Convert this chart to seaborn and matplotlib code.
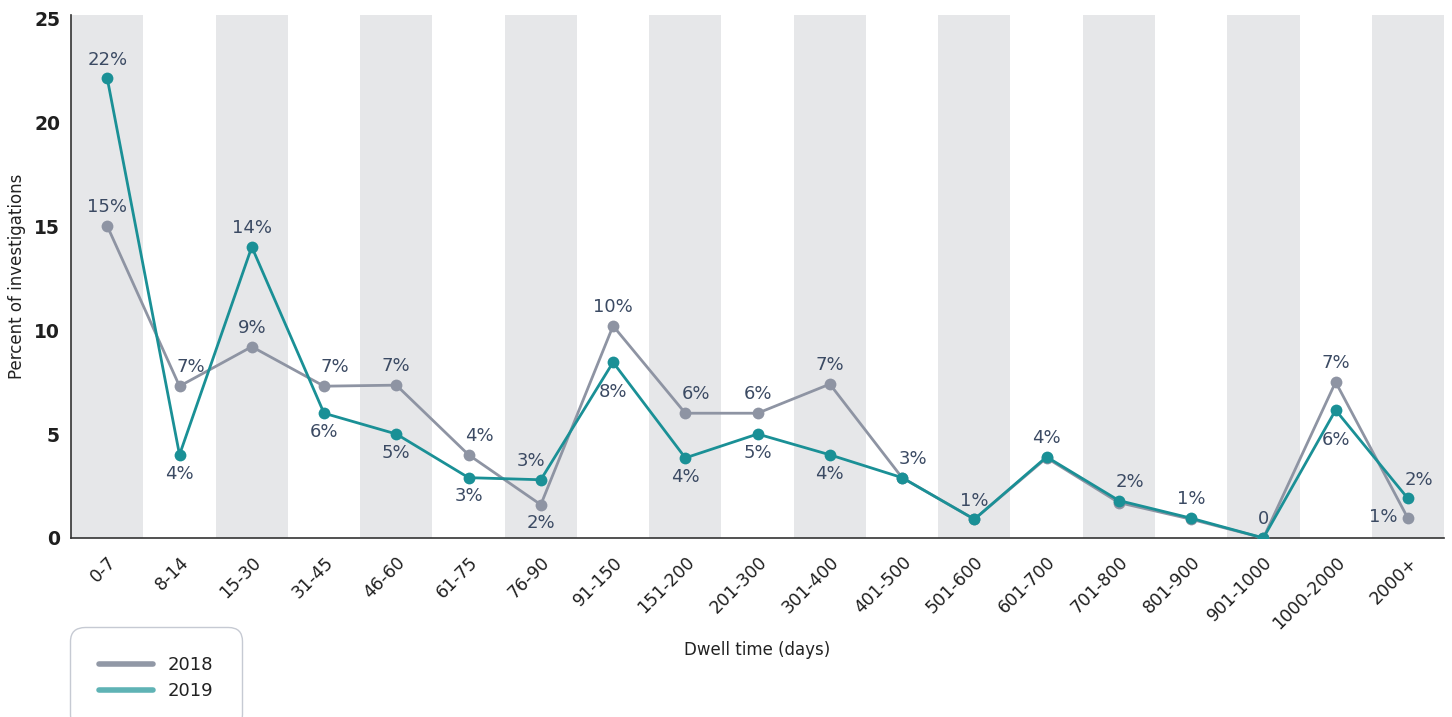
import numpy as np
import pandas as pd
import seaborn as sns
import matplotlib.pyplot as plt
from matplotlib.lines import Line2D

dwell = ["0-7", "8-14", "15-30", "31-45", "46-60", "61-75", "76-90", "91-150",
         "151-200", "201-300", "301-400", "401-500", "501-600", "601-700",
         "701-800", "801-900", "901-1000", "1000-2000", "2000+"]
pct_2018 = [15.0, 7.3, 9.2, 7.3, 7.35, 4.0, 1.6, 10.2, 6.0, 6.0, 7.4, 2.9, 0.9,
            3.85, 1.7, 0.9, 0.0, 7.5, 0.95]
pct_2019 = [22.1, 4.0, 14.0, 6.0, 5.0, 2.9, 2.8, 8.45, 3.85, 5.0, 4.0, 2.9, 0.9,
            3.9, 1.8, 0.95, 0.0, 6.15, 1.9]
text_2018 = ["15%", "7%", "9%", "7%", "7%", "4%", "2%", "10%", "6%", "6%", "7%",
             "", "", "", "", "", "", "7%", "1%"]
text_2019 = ["22%", "4%", "14%", "6%", "5%", "3%", "3%", "8%", "4%", "5%", "4%",
             "3%", "1%", "4%", "2%", "1%", "0", "6%", "2%"]
# where each label sits relative to its point
where_2018 = ["n", "ne", "n", "ne", "n", "ne", "s", "n", "ne", "n", "n",
              "n", "n", "n", "n", "n", "n", "n", "w"]
where_2019 = ["n", "s", "n", "s", "s", "s", "nw", "ss", "s", "s", "s",
              "ne", "n", "n", "ne", "n", "n", "ss", "ne"]

gray = "#8E94A3"
teal = "#1A9096"
label_col = "#3B4A63"

df = pd.DataFrame({
    "pos": list(range(len(dwell))) * 2,
    "pct": pct_2018 + pct_2019,
    "year": ["2018"] * len(dwell) + ["2019"] * len(dwell),
})

sns.set_style("white")
plt.rcParams["font.family"] = ["DejaVu Sans"]

fig = plt.figure(figsize=(14.52, 7.17), dpi=100)
ax = fig.add_axes([0.049, 0.2497, 0.9455, 0.7293])

for i in range(0, len(dwell), 2):
    ax.axvspan(i - 0.5, i + 0.5, color="#E6E7E9", lw=0, zorder=0)

sns.lineplot(data=df, x="pos", y="pct", hue="year", palette={"2018": gray, "2019": teal},
             marker="o", markersize=8.5, markeredgewidth=0, linewidth=2.0,
             legend=False, ax=ax, zorder=3)

offs = {"n": (0, 7), "s": (0, -7), "ss": (0, -15), "ne": (8, 7), "nw": (-7, 7), "w": (-18, 1)}
for vals, texts, wh in [(pct_2018, text_2018, where_2018), (pct_2019, text_2019, where_2019)]:
    for i, (v, t, w) in enumerate(zip(vals, texts, wh)):
        if not t:
            continue
        dx, dy = offs[w]
        va = "bottom" if dy > 2 else ("top" if dy < 0 else "center")
        ax.annotate(t, (i, v), xytext=(dx, dy), textcoords="offset points",
                    ha="center", va=va, fontsize=13, color=label_col, zorder=5)

ax.set_xlim(-0.5, len(dwell) - 0.5)
ax.set_ylim(0, 25.15)
ax.set_yticks([0, 5, 10, 15, 20, 25])
ax.set_yticklabels(["0", "5", "10", "15", "20", "25"], fontsize=13.5, fontweight="bold", color="#1F1F1F")
ax.set_xticks(range(len(dwell)))
ax.set_xticklabels(dwell, rotation=45, ha="right", rotation_mode="anchor",
                   fontsize=12.5, color="#1F1F1F")
ax.tick_params(axis="y", length=0, pad=8)
ax.tick_params(axis="x", length=0, pad=11)
ax.set_xlabel("Dwell time (days)", fontsize=12, color="#222222", labelpad=6)
ax.set_ylabel("Percent of investigations", fontsize=12, color="#222222")
ax.yaxis.set_label_coords(-0.033, 0.5)

for s in ["top", "right"]:
    ax.spines[s].set_visible(False)
for s in ["left", "bottom"]:
    ax.spines[s].set_color("#333333")
    ax.spines[s].set_linewidth(1.2)

handles = [Line2D([], [], color="#9198A6", lw=4), Line2D([], [], color="#5FB3B5", lw=4)]
leg = fig.legend(handles, ["2018", "2019"], loc="upper left", bbox_to_anchor=(0.052, 0.118),
                 frameon=True, fancybox=True, fontsize=13, handlelength=3.0,
                 borderpad=1.3, labelspacing=0.45, handletextpad=0.8, borderaxespad=0)
leg.get_frame().set_edgecolor("#B8BDC8")
leg.get_frame().set_linewidth(1.0)
leg.get_frame().set_boxstyle("round,pad=0.3,rounding_size=0.8")
for t in leg.get_texts():
    t.set_color("#222222")

fig.savefig("out.png", dpi=100)
